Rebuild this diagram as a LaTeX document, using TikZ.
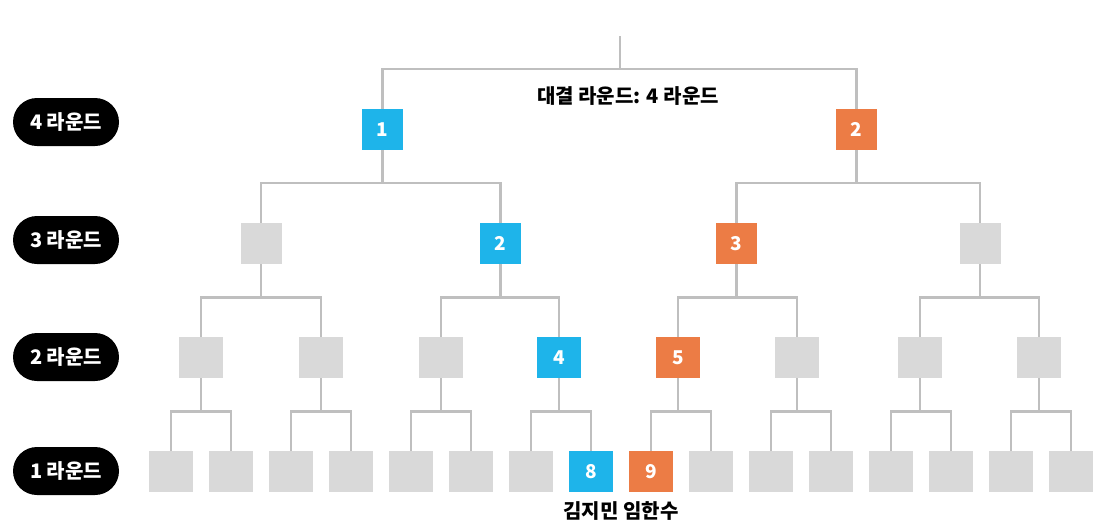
\documentclass[tikz,border=0pt]{standalone}
\usepackage{fontspec}
\setmainfont{Noto Sans CJK KR}
\newfontfamily\krfont{Noto Sans CJK KR}
\definecolor{bblue}{HTML}{1EB4EA}
\definecolor{borange}{HTML}{EC7C45}
\definecolor{bgray}{HTML}{D9D9D9}
\definecolor{lgray}{HTML}{BFBFBF}
\tikzset{
  boxbase/.style={rectangle, inner sep=0pt, minimum height=41pt, text=white,
    font=\krfont\bfseries\fontsize{19}{21}\selectfont},
  wide/.style={boxbase, minimum width=44pt},
  narrow/.style={boxbase, minimum width=41pt},
  gbox/.style={fill=bgray},
  bbox/.style={fill=bblue},
  obox/.style={fill=borange},
  conn/.style={draw=lgray, line width=2.8pt, line join=miter},
  pill/.style={fill=black, rounded corners=24pt, minimum width=106pt, minimum height=48pt,
    inner sep=0pt, text=white, font=\krfont\bfseries\fontsize{20}{22}\selectfont},
  lbl/.style={inner sep=0pt, font=\krfont\bfseries\fontsize{20}{22}\selectfont}
}
\begin{document}
\begin{tikzpicture}[x=1pt,y=-1pt]
\useasboundingbox[fill=white] (0,0) rectangle (1102,523);
% round pills
\node[pill] (p4) at (66,122) {4 라운드};
\node[pill] (p3) at (66,240) {3 라운드};
\node[pill] (p2) at (66,357) {2 라운드};
\node[pill] (p1) at (66,471) {1 라운드};
% round 1 (bottom)
\foreach \k in {0,...,15}{
  \pgfmathsetmacro{\xx}{171+60*\k}
  \ifnum\k=7
    \node[wide,bbox] (ra\k) at (\xx,471.5) {8};
  \else\ifnum\k=8
    \node[wide,obox] (ra\k) at (\xx,471.5) {9};
  \else
    \node[wide,gbox] (ra\k) at (\xx,471.5) {};
  \fi\fi
}
% round 2
\node[wide,gbox] (rb0) at (201,357.5) {};
\node[wide,gbox] (rb1) at (321,357.5) {};
\node[wide,gbox] (rb2) at (441,357.5) {};
\node[wide,bbox] (rb3) at (559,357.5) {4};
\node[wide,obox] (rb4) at (678,357.5) {5};
\node[wide,gbox] (rb5) at (797,357.5) {};
\node[wide,gbox] (rb6) at (920,357.5) {};
\node[wide,gbox] (rb7) at (1039,357.5) {};
% round 3
\node[narrow,gbox] (rc0) at (261,243.5) {};
\node[narrow,bbox] (rc1) at (500.5,243.5) {2};
\node[narrow,obox] (rc2) at (736.5,243.5) {3};
\node[narrow,gbox] (rc3) at (980,243.5) {};
% round 4
\node[narrow,bbox] (rd0) at (382.5,129.5) {1};
\node[narrow,obox] (rd1) at (856.5,129.5) {2};
% top stub
\coordinate (top) at (620,36);
% connectors
\draw[conn] (top) -- (top |- 0,69) -| (rd0.north);
\draw[conn] (top |- 0,69) -| (rd1.north);
\foreach \i in {0,1}{
  \pgfmathtruncatemacro{\a}{2*\i}
  \pgfmathtruncatemacro{\b}{2*\i+1}
  \draw[conn] (rc\a.north) |- (rd\i.south |- 0,183) -- (rd\i.south);
  \draw[conn] (rc\b.north) |- (rd\i.south |- 0,183);
}
\foreach \i in {0,...,3}{
  \pgfmathtruncatemacro{\a}{2*\i}
  \pgfmathtruncatemacro{\b}{2*\i+1}
  \draw[conn] (rb\a.north) |- (rc\i.south |- 0,297.5) -- (rc\i.south);
  \draw[conn] (rb\b.north) |- (rc\i.south |- 0,297.5);
}
\foreach \i in {0,...,7}{
  \pgfmathtruncatemacro{\a}{2*\i}
  \pgfmathtruncatemacro{\b}{2*\i+1}
  \draw[conn] (ra\a.north) |- (rb\i.south |- 0,411.5) -- (rb\i.south);
  \draw[conn] (ra\b.north) |- (rb\i.south |- 0,411.5);
}
% labels
\node[lbl] (final) at (628,96) {대결 라운드: 4 라운드};
\node[lbl] (names) at (621,511) {김지민 임한수};
\end{tikzpicture}
\end{document}
